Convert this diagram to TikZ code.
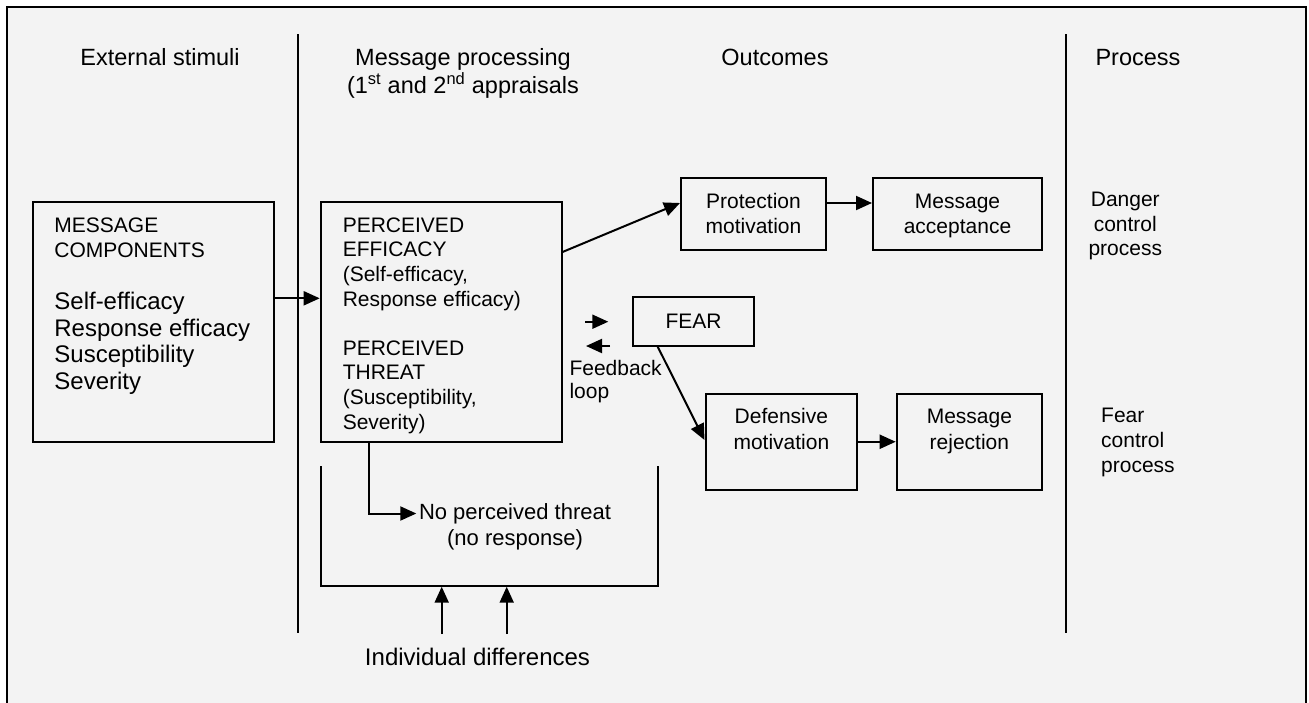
\documentclass[tikz,border=0pt]{standalone}
\usepackage{fontspec}
\setmainfont{Liberation Sans}
\usetikzlibrary{arrows.meta}
\definecolor{paper}{HTML}{F3F3F3}
\newcommand\rowsL[1]{\begin{tabular}[t]{@{}l@{}}#1\end{tabular}}
\newcommand\rowsC[1]{\begin{tabular}[t]{@{}c@{}}#1\end{tabular}}
\newcommand\setfs[2]{\fontsize{#1}{#2}\selectfont}
\begin{document}
\begin{tikzpicture}[x=1pt,y=-1pt,
  box/.style={draw, line width=2pt, inner sep=0pt},
  arr/.style={-{Triangle[length=16pt,width=14pt]}, line width=2pt},
  rule/.style={line width=2pt},
  lbl/.style={inner sep=0pt, anchor=base west},
  clbl/.style={inner sep=0pt, anchor=base}]
\useasboundingbox (0,0) rectangle (1309,702);
% page frame, open at the bottom
\fill[paper] (7.3,7.3) rectangle (1306,720);
\draw[line width=2.2pt] (7.3,720) -- (7.3,7.3) -- (1306,7.3) -- (1306,720);

% column rules
\draw[rule] (297.7,34) -- (297.7,633.3);
\draw[rule] (1065.7,34) -- (1065.7,633.3);

% column headings
\node[clbl, font=\setfs{23.5}{24}] (hStim) at (160,65) {External stimuli};
\node[clbl, font=\setfs{23.5}{24}] (hProc) at (463,65)
  {\rowsC{Message processing\\(1\textsuperscript{st} and 2\textsuperscript{nd} appraisals}};
\node[clbl, font=\setfs{23.5}{24}] (hOut) at (775,65) {Outcomes};
\node[clbl, font=\setfs{23.5}{24}] (hProcess) at (1138,65) {Process};

% boxes
\node[box, minimum width=240.5pt, minimum height=240.5pt] (comp) at (153.25,321.75) {};
\node[box, minimum width=240.8pt, minimum height=240.5pt] (perc) at (441.1,321.75) {};
\node[box, minimum width=145pt, minimum height=71.5pt] (prot) at (753.5,213.75) {};
\node[box, minimum width=169pt, minimum height=71.5pt] (acc) at (957.5,213.75) {};
\node[box, minimum width=121pt, minimum height=48.4pt] (fear) at (693.5,321.5) {};
\node[box, minimum width=151.8pt, minimum height=95.5pt] (def) at (781.4,441.75) {};
\node[box, minimum width=145.3pt, minimum height=95.5pt] (rej) at (969.35,441.75) {};

% box texts
\node[lbl, font=\setfs{21}{25}] (compHead) at (54.2,232.3) {\rowsL{MESSAGE\\COMPONENTS}};
\node[lbl, font=\setfs{24}{26.7}] (compList) at (54.2,309.3)
  {\rowsL{Self-efficacy\\Response efficacy\\Susceptibility\\Severity}};
\node[lbl, font=\setfs{21}{24.6}] (percText) at (342.6,232.3)
  {\rowsL{PERCEIVED\\EFFICACY\\(Self-efficacy,\\Response efficacy)\\ \\PERCEIVED\\THREAT\\(Susceptibility,\\Severity)}};
\node[clbl, font=\setfs{21}{25}] (protText) at (753.5,208.3) {\rowsC{Protection\\motivation}};
\node[clbl, font=\setfs{21}{25}] (accText) at (957.5,208.3) {\rowsC{Message\\acceptance}};
\node[clbl, font=\setfs{21}{25}] (fearText) at (693.5,328.5) {FEAR};
\node[clbl, font=\setfs{21}{25.7}] (defText) at (781.4,423.3) {\rowsC{Defensive\\motivation}};
\node[clbl, font=\setfs{21}{25.7}] (rejText) at (969.35,423.3) {\rowsC{Message\\rejection}};

% side labels
\node[lbl, font=\setfs{21}{23.5}] (fbText) at (569.3,375) {\rowsL{Feedback\\loop}};
\node[clbl, font=\setfs{21}{24.5}] (danger) at (1125.3,206.7) {\rowsC{Danger\\control\\process}};
\node[lbl, font=\setfs{21}{25}] (fearctl) at (1101,422.7) {\rowsL{Fear\\control\\process}};
\node[clbl, font=\setfs{22}{25.7}] (noThreat) at (515,519.3) {\rowsC{No perceived threat\\(no response)}};
\node[clbl, font=\setfs{24}{26}] (indiv) at (477.5,665) {Individual differences};

% connectors between boxes
\draw[arr] ([yshift=23.45pt]comp.east) -- ([yshift=23.45pt]perc.west);
\draw[arr] ([yshift=69.75pt]perc.east) -- ([yshift=10.75pt]prot.west);
\draw[arr] ([yshift=10.75pt]prot.east) -- ([yshift=10.75pt]acc.west);
\draw[arr] ([xshift=-35.8pt]fear.south) -- ([yshift=1.75pt]def.west);
\draw[arr] (def.east) -- (rej.west);

% feedback loop arrows
\coordinate (fbA) at (585,321.7);
\coordinate (fbB) at (608.3,321.7);
\coordinate (fbC) at (610,346);
\coordinate (fbD) at (586,346);
\draw[arr] (fbA) -- (fbB);
\draw[arr] (fbC) -- (fbD);

% no perceived threat branch
\coordinate (ntTip) at (416.3,513.5);
\draw[arr] ([xshift=-72.1pt]perc.south) |- (ntTip);

% individual differences bracket
\draw[rule] (320.7,466) -- (320.7,585.7) -- (657.7,585.7) -- (657.7,466);
\coordinate (idA) at (441.7,634);
\coordinate (idB) at (506.7,634);
\draw[arr] (idA) -- (441.7,586.7);
\draw[arr] (idB) -- (506.7,586.7);
\end{tikzpicture}
\end{document}
